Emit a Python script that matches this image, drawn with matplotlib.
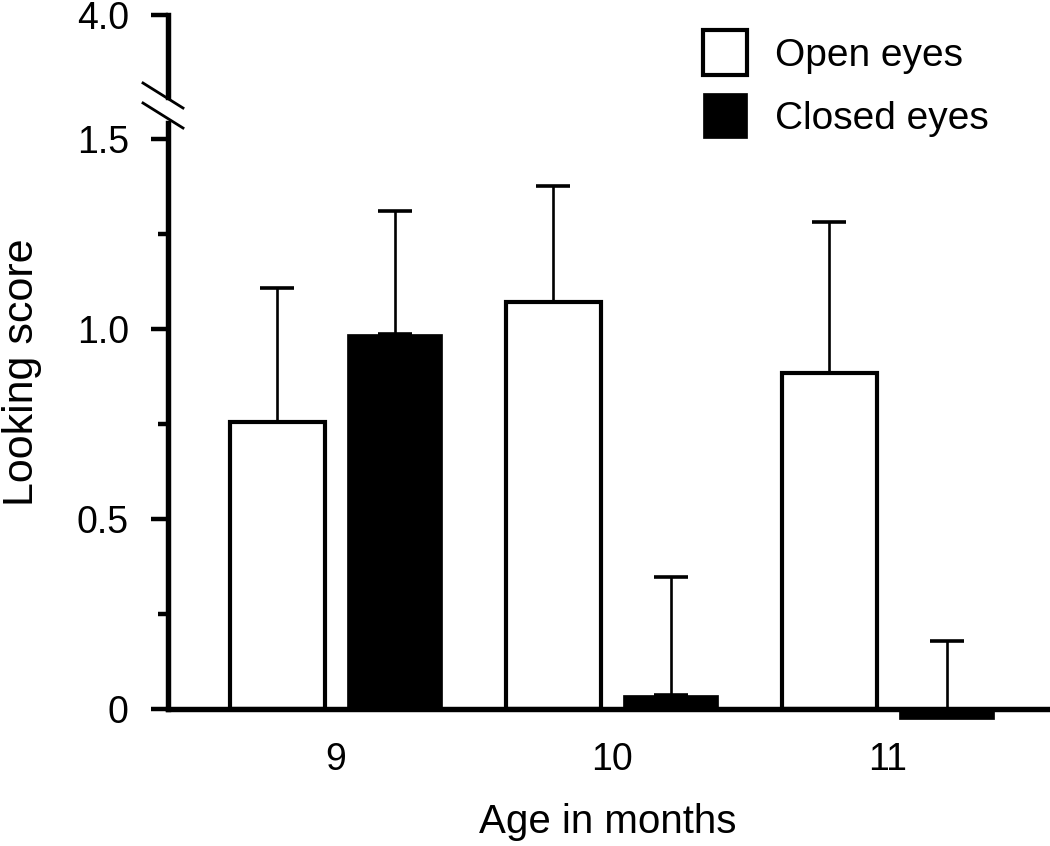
import matplotlib
matplotlib.use("Agg")
import matplotlib.pyplot as plt
from matplotlib.lines import Line2D
import numpy as np

# ---- data ----
ages = ["9", "10", "11"]
open_means = [0.756, 1.072, 0.884]
open_err = [0.352, 0.303, 0.398]
closed_means = [0.987, 0.037, -0.025]
closed_err = [0.324, 0.310, 0.204]
series_labels = ["Open eyes", "Closed eyes"]
y_major = [0, 0.5, 1.0, 1.5]
y_major_labels = ["0", "0.5", "1.0", "1.5"]
y_minor = [0.25, 0.75, 1.25]
top_tick = [4.0]
top_tick_labels = ["4.0"]

plt.rcParams['font.family'] = ['Liberation Sans', 'DejaVu Sans']

W, H = 1050, 846
fig = plt.figure(figsize=(W / 100, H / 100), dpi=100)

def fx(px):
    return px / W

def fy(py):
    return 1 - py / H

# main axes: spine at x=168, from y=709 (0) up to y=123
left_px, right_px = 168, 1048
ax = fig.add_axes([fx(left_px), fy(709), fx(right_px - left_px), (709 - 123) / H])
# top segment axes
ax_top = fig.add_axes([fx(left_px), fy(97), fx(right_px - left_px), (97 - 15) / H])

spine_lw = 3.9
tick_lw = 3.2
tick_fs = 27
xlabel_fs = 29
ylabel_fs = 31
legend_fs = 28

x = np.arange(len(ages))
bw = 0.344
off = 0.213

err_kw = dict(ecolor='black', elinewidth=1.9, capsize=12, capthick=2.6)
ax.bar(x - off, open_means, width=bw, color='white', edgecolor='black',
       linewidth=3.0, label=series_labels[0],
       yerr=[np.zeros(len(ages)), open_err], error_kw=err_kw, zorder=3)
bars_c = ax.bar(x + off, closed_means, width=bw, color='black', edgecolor='black',
                linewidth=0.5, label=series_labels[1],
                yerr=[np.zeros(len(ages)), closed_err], error_kw=err_kw, zorder=3)
for p in bars_c.patches:
    p.set_clip_on(False)

ax.set_xlim(-0.609, 2.580)
ax.set_ylim(0, 1.542)
for s in ['top', 'right']:
    ax.spines[s].set_visible(False)
ax.spines['left'].set_linewidth(spine_lw)
ax.spines['bottom'].set_linewidth(spine_lw)
ax.spines['bottom'].set_zorder(4)
ax.set_yticks(y_major)
ax.set_yticklabels(y_major_labels, fontsize=tick_fs)
ax.set_yticks(y_minor, minor=True)
ax.tick_params(axis='y', which='major', length=12.2, width=tick_lw, pad=16, direction='out')
ax.tick_params(axis='y', which='minor', length=7.5, width=tick_lw, direction='out')
ax.set_xticks(x)
ax.set_xticklabels(ages, fontsize=tick_fs)
ax.tick_params(axis='x', length=0, pad=24)
ax.patch.set_visible(False)

# top axes
ax_top.set_ylim(3.7, 4.0)
ax_top.set_xlim(0, 1)
for s in ['top', 'right', 'bottom']:
    ax_top.spines[s].set_visible(False)
ax_top.spines['left'].set_linewidth(spine_lw)
ax_top.set_xticks([])
ax_top.set_yticks(top_tick)
ax_top.set_yticklabels(top_tick_labels, fontsize=tick_fs)
ax_top.tick_params(axis='y', length=12.2, width=tick_lw, pad=16)
ax_top.patch.set_visible(False)

# break marks
for (x0, y0, x1, y1) in [(143, 83, 183, 108), (143, 103, 183, 128)]:
    fig.add_artist(Line2D([fx(x0), fx(x1)], [fy(y0), fy(y1)], color='black', lw=2.0))

# labels
fig.text(fx(22), fy(372), "Looking score", rotation=90, ha='center', va='center', fontsize=ylabel_fs)
fig.text(fx(608), fy(822), "Age in months", ha='center', va='center', fontsize=xlabel_fs)

# legend
leg = ax.legend(loc='upper left', bbox_to_anchor=(fx(703), fy(30)), bbox_transform=fig.transFigure,
                frameon=False, fontsize=legend_fs, handlelength=1.13, handleheight=1.42,
                handletextpad=0.72, labelspacing=0.45, borderpad=0, borderaxespad=0)

fig.savefig("out.png", dpi=100)
